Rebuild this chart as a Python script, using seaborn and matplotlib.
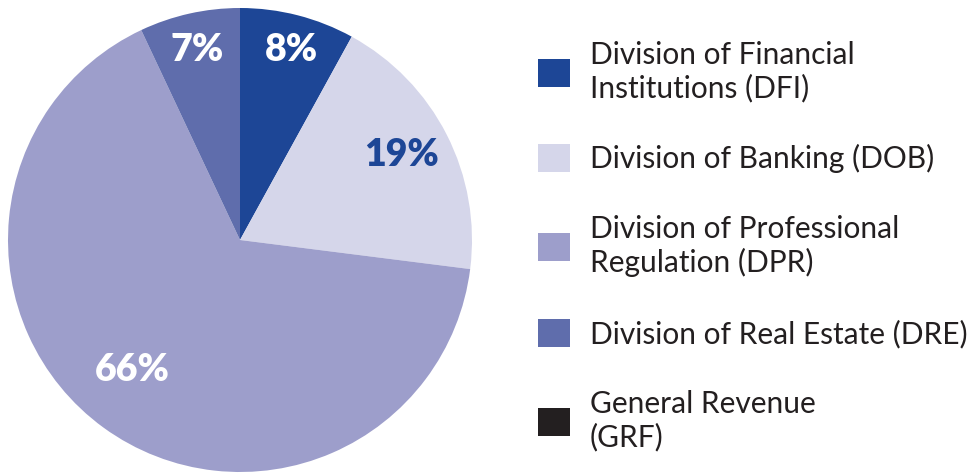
import numpy as np
import matplotlib
matplotlib.use("Agg")
import matplotlib.pyplot as plt
import seaborn as sns

# Revenue share by division
divisions = [
    "Division of Financial\nInstitutions (DFI)",
    "Division of Banking (DOB)",
    "Division of Professional\nRegulation (DPR)",
    "Division of Real Estate (DRE)",
    "General Revenue\n(GRF)",
]
shares = [8, 19, 66, 7, 0]
pct_labels = ["8%", "19%", "66%", "7%", ""]
colors = ["#1D4696", "#D5D6EA", "#9D9ECB", "#5F6DAC", "#231F20"]
label_colors = ["white", "#1D4696", "white", "white", "white"]

# label placement: radial distance and small angular nudge (degrees)
label_dist = [0.85, 0.785, 0.73, 0.84, 0.8]
label_nudge = [-0.8, 0.8, -3.7, 0.0, 0.0]

sns.set_theme(style="white")
plt.rcParams["font.family"] = ["Lato", "DejaVu Sans"]

W, H = 972, 473
fig = plt.figure(figsize=(W / 100, H / 100), dpi=100)
cx, cy, r = 240, 233, 232
ax = fig.add_axes([(cx - r) / W, (cy - r) / H, 2 * r / W, 2 * r / H])

wedges, _ = ax.pie(shares, colors=sns.color_palette(colors), startangle=90,
                   counterclock=False, radius=1.0,
                   wedgeprops=dict(linewidth=0))
ax.set_xlim(-1, 1)
ax.set_ylim(-1, 1)
ax.set_aspect("equal")
ax.axis("off")

for w, lab, col, d, nd in zip(wedges, pct_labels, label_colors, label_dist, label_nudge):
    if not lab:
        continue
    mid = np.deg2rad((w.theta1 + w.theta2) / 2 + nd)
    ax.text(d * np.cos(mid), d * np.sin(mid), lab, ha="center", va="center",
            fontsize=27, fontweight="heavy", color=col)

fig.legend(wedges, divisions, loc="center left",
           bbox_to_anchor=(538 / W, (H - 246) / H),
           frameon=False, fontsize=21.5, labelcolor="#231F20",
           handlelength=1.07, handleheight=1.07, handletextpad=0.67,
           labelspacing=1.4, borderpad=0, borderaxespad=0)

fig.savefig("out.png", dpi=100)
